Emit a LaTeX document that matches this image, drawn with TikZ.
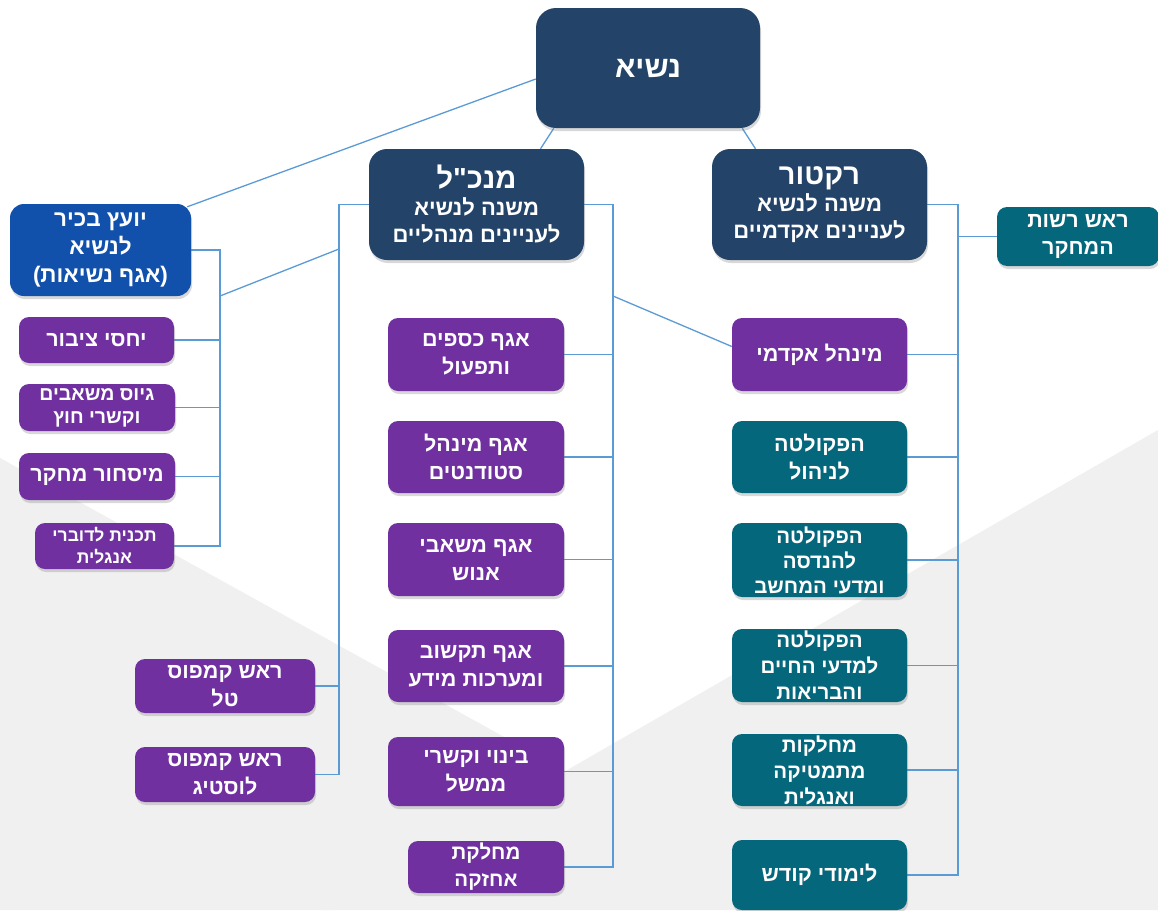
\documentclass[tikz,border=0pt]{standalone}
\usepackage{fontspec}
\newfontfamily\hebfont[Script=Hebrew]{Liberation Sans}
\TeXXeTstate=1
\usetikzlibrary{shadows,calc}
\newcommand\heb[1]{\beginR#1\endR}
\newcommand\fz[2]{\hebfont\bfseries\fontsize{#1}{#2}\selectfont}
\definecolor{navy}{HTML}{234468}
\definecolor{purp}{HTML}{7030A0}
\definecolor{tealc}{HTML}{05677C}
\definecolor{blueb}{HTML}{1151AB}
\definecolor{linec}{HTML}{5B9BD5}
\definecolor{bggray}{HTML}{F0F0F0}
\pgfdeclarelayer{bg}
\pgfdeclarelayer{lines}
\pgfsetlayers{bg,lines,main}
\begin{document}
\begin{tikzpicture}[x=1pt,y=-1pt,
  box/.style={rectangle, rounded corners=10pt, inner sep=0pt, text=white, align=center,
    drop shadow={opacity=0.3, shadow xshift=1pt, shadow yshift=-3pt}},
  topbox/.style={box, fill=navy, rounded corners=18pt, minimum width=215, minimum height=111, font=\fz{22}{27}},
  pbox/.style={box, fill=purp, font=\fz{21.5}{28}},
  tbox/.style={box, fill=tealc, font=\fz{21.5}{28}},
  conn/.style={draw=linec, line width=1.3pt}]
\useasboundingbox (0,0) rectangle (1158,910);
\begin{pgfonlayer}{bg}
\fill[white] (0,0) rectangle (1158,910);
\fill[bggray] (0,458) -- (600,790) -- (330,910) -- (0,910) -- cycle;
\fill[bggray] (1158,430) -- (324,910) -- (1158,910) -- cycle;
\end{pgfonlayer}

% nodes
\node[box, fill=navy, rounded corners=20pt, minimum width=224, minimum height=120, font=\fz{30}{34}] (nasi) at (648,68) {\heb{נשיא}};
\node[topbox] (mankal) at (476.5,204.5) {{\fontsize{29}{32}\selectfont\heb{מנכ"ל}}\\\heb{משנה לנשיא}\\\heb{לעניינים מנהליים}};
\node[topbox] (rector) at (819.5,204.5) {{\fontsize{29}{32}\selectfont\heb{רקטור}}\\\heb{משנה לנשיא}\\\heb{לעניינים אקדמיים}};
\node[box, fill=blueb, rounded corners=14pt, minimum width=181, minimum height=92, font=\fz{22.5}{28}] (yoetz) at (100.5,250) {\heb{יועץ בכיר}\\\heb{לנשיא}\\\heb{(אגף נשיאות)}};
\node[tbox, minimum width=162, minimum height=59, font=\fz{21.5}{27}] (reshut) at (1078,236.5) {\heb{ראש רשות}\\\heb{המחקר}};

\node[pbox, minimum width=155, minimum height=46] (yachasei) at (96.5,340) {\heb{יחסי ציבור}};
\node[pbox, minimum width=156, minimum height=47, font=\fz{19.5}{23}] (gius) at (97,407.5) {\heb{גיוס משאבים}\\\heb{וקשרי חוץ}};
\node[pbox, minimum width=156, minimum height=47] (mischur) at (97,476.5) {\heb{מיסחור מחקר}};
\node[pbox, minimum width=139, minimum height=46, font=\fz{17.5}{22}] (english) at (104.5,546) {\heb{תכנית לדוברי}\\\heb{אנגלית}};

\node[pbox, minimum width=176, minimum height=73] (kesafim) at (476,354.5) {\heb{אגף כספים}\\\heb{ותפעול}};
\node[pbox, minimum width=176, minimum height=72] (studentim) at (476,457) {\heb{אגף מינהל}\\\heb{סטודנטים}};
\node[pbox, minimum width=176, minimum height=73] (enosh) at (476,559.5) {\heb{אגף משאבי}\\\heb{אנוש}};
\node[pbox, minimum width=176, minimum height=72] (tikshuv) at (476,666) {\heb{אגף תקשוב}\\\heb{ומערכות מידע}};
\node[pbox, minimum width=176, minimum height=69] (binui) at (476,771.5) {\heb{בינוי וקשרי}\\\heb{ממשל}};
\node[pbox, minimum width=156, minimum height=52, font=\fz{20.5}{27}] (achzaka) at (486,867) {\heb{מחלקת}\\\heb{אחזקה}};

\node[pbox, minimum width=180, minimum height=54] (tal) at (225,686) {\heb{ראש קמפוס}\\\heb{טל}};
\node[pbox, minimum width=180, minimum height=55] (lustig) at (225,774.5) {\heb{ראש קמפוס}\\\heb{לוסטיג}};

\node[pbox, minimum width=175, minimum height=73] (akad) at (819.5,354.5) {\heb{מינהל אקדמי}};
\node[tbox, minimum width=175, minimum height=72] (nihul) at (819.5,457) {\heb{הפקולטה}\\\heb{לניהול}};
\node[tbox, minimum width=175, minimum height=74, font=\fz{20.5}{25}] (handasa) at (819.5,560) {\heb{הפקולטה}\\\heb{להנדסה}\\\heb{ומדעי המחשב}};
\node[tbox, minimum width=175, minimum height=73, font=\fz{20.5}{26}] (chaim) at (819.5,665.5) {\heb{הפקולטה}\\\heb{למדעי החיים}\\\heb{והבריאות}};
\node[tbox, minimum width=175, minimum height=72, font=\fz{20.5}{26}] (matem) at (819.5,770) {\heb{מחלקות}\\\heb{מתמטיקה}\\\heb{ואנגלית}};
\node[tbox, minimum width=175, minimum height=70] (kodesh) at (819.5,875) {\heb{לימודי קודש}};

% connectors (behind boxes)
\coordinate (LB) at (339,204.5);
\coordinate (RB) at (613,204.5);
\coordinate (KB) at (958,204.5);
\coordinate (YB) at (220,250);
\coordinate (d1) at (339,249);
\coordinate (d2) at (220,296);
\coordinate (d3) at (613,296);
\begin{pgfonlayer}{lines}
\draw[conn] ($(nasi.west)+(0,11)$) -- ($(yoetz.north east)+(-4,3)$);
\draw[conn] ($(nasi.south west)+(18,0)$) -- ($(mankal.north)+(64,0)$);
\draw[conn] ($(nasi.south east)+(-18,0)$) -- ($(rector.north)+(-64,0)$);
\draw[conn] (yoetz.east) -- (YB) -- (YB |- english.east) -- (english.east);
\foreach \n in {yachasei,gius,mischur} \draw[conn] (\n.east) -- (\n.east -| YB);
\draw[conn] (mankal.west) -- (LB) -- (LB |- lustig.east) -- (lustig.east);
\draw[conn] (tal.east) -- (tal.east -| LB);
\draw[conn] (d1) -- (d2);
\draw[conn] (mankal.east) -- (RB) -- (RB |- achzaka.east) -- (achzaka.east);
\foreach \n in {kesafim,studentim,enosh,tikshuv,binui} \draw[conn] (\n.east) -- (\n.east -| RB);
\draw[conn] (d3) -- ($(akad.west)+(0,-8)$);
\draw[conn] (rector.east) -- (KB) -- (KB |- kodesh.east) -- (kodesh.east);
\foreach \n in {akad,nihul,handasa,chaim,matem} \draw[conn] (\n.east) -- (\n.east -| KB);
\draw[conn] (reshut.west) -- (reshut.west -| KB);
\end{pgfonlayer}
\end{tikzpicture}
\end{document}
